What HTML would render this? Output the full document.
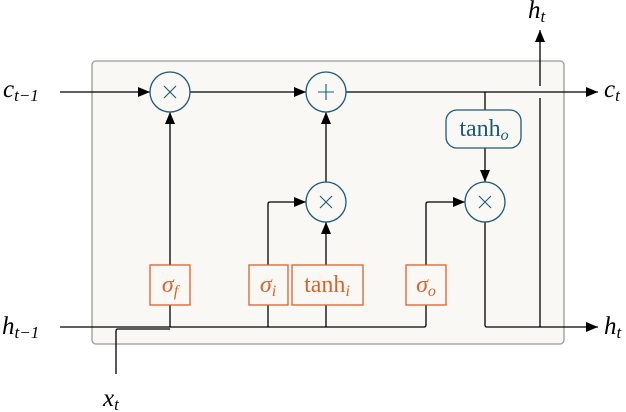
<!DOCTYPE html><html><head><style>body{margin:0;background:#fff}svg{display:block}text{font-family:"Liberation Serif",serif}</style></head><body>
<svg width="626" height="412" viewBox="0 0 626 412" xmlns="http://www.w3.org/2000/svg">
<defs><marker id="a" markerWidth="12" markerHeight="10" refX="12" refY="5" orient="auto" markerUnits="userSpaceOnUse"><path d="M0,0L12,5L0,10z" fill="#000"/></marker></defs>
<rect x="92" y="61" width="472" height="283" rx="4" fill="#f9f8f5" stroke="#999" stroke-width="1.3"/>
<g stroke="#000" stroke-width="1.3" fill="none">
<path d="M60,92H150" marker-end="url(#a)"/>
<path d="M190,92H306" marker-end="url(#a)"/>
<path d="M346,92H598" marker-end="url(#a)"/>
<path d="M485,92V110"/>
<path d="M485,148V182" marker-end="url(#a)"/>
<path d="M485,222V325q0,2 2,2H598" marker-end="url(#a)"/>
<path d="M540,327V98M540,86V30" marker-end="url(#a)"/>
<path d="M60,327H424q2,0 2,-2V305"/>
<path d="M170,327V305M170,265V112" marker-end="url(#a)"/>
<path d="M268,327V305M268,265V204q0,-2 2,-2H306" marker-end="url(#a)"/>
<path d="M326,327V305M326,265V222" marker-end="url(#a)"/>
<path d="M326,182V112" marker-end="url(#a)"/>
<path d="M426,265V204q0,-2 2,-2H465" marker-end="url(#a)"/>
<path d="M116,374V331q0,-2 2,-2H170"/>
</g>
<g stroke="#1b5a7a" stroke-width="1.3" fill="#f9f8f5">
<circle cx="170" cy="92" r="20"/><circle cx="326" cy="92" r="20"/><circle cx="326" cy="202" r="20"/><circle cx="485" cy="202" r="20"/>
<rect x="446" y="110" width="75" height="38" rx="11"/>
</g>
<g stroke="#1b5a7a" stroke-width="1.1">
<path d="M164,86l12,12M176,86l-12,12"/><path d="M320,196l12,12M332,196l-12,12"/><path d="M479,196l12,12M491,196l-12,12"/>
<path d="M326,84v16M318,92h16"/>
</g>
<g stroke="#d9622b" stroke-width="1.3" fill="#f9f8f5">
<rect x="150" y="265" width="40" height="40"/><rect x="249" y="265" width="39" height="40"/><rect x="292" y="265" width="71" height="40"/><rect x="406" y="265" width="40" height="40"/>
</g>
<g fill="#d9622b" style="font-size:24px" text-anchor="middle">
<text x="170" y="292" font-style="italic">σ<tspan style="font-size:16px" dy="4">f</tspan></text>
<text x="268" y="292" font-style="italic">σ<tspan style="font-size:16px" dy="4">i</tspan></text>
<text x="327" y="292">tanh<tspan style="font-size:16px" dy="4" font-style="italic">i</tspan></text>
<text x="426" y="292" font-style="italic">σ<tspan style="font-size:16px" dy="4">o</tspan></text>
<text x="484" y="136" fill="#1b5a7a">tanh<tspan style="font-size:16px" dy="4" font-style="italic">o</tspan></text>
</g>
<g style="font-size:25px" font-style="italic" fill="#000">
<text x="3" y="97">c<tspan style="font-size:17px" dy="4">t−1</tspan></text>
<text x="2" y="334">h<tspan style="font-size:17px" dy="4">t−1</tspan></text>
<text x="604" y="97">c<tspan style="font-size:17px" dy="4">t</tspan></text>
<text x="604" y="334">h<tspan style="font-size:17px" dy="4">t</tspan></text>
<text x="528" y="18">h<tspan style="font-size:17px" dy="4">t</tspan></text>
<text x="103" y="406">x<tspan style="font-size:17px" dy="4">t</tspan></text>
</g>
</svg></body></html>
